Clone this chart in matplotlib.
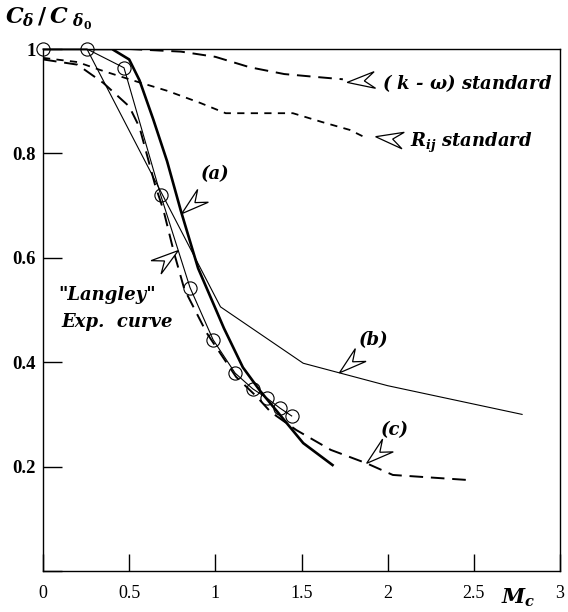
import numpy as np
import matplotlib
matplotlib.use("Agg")
import matplotlib.pyplot as plt
from matplotlib.patches import Polygon
from matplotlib import transforms

#---------------------------- data ----------------------------
# "Langley" experimental curve (open circles)
langley_x = [0.0, 0.255, 0.47, 0.683, 0.853, 0.987, 1.115, 1.217, 1.30, 1.375, 1.443]
langley_y = [1.0, 1.0, 0.964, 0.72, 0.543, 0.443, 0.379, 0.349, 0.331, 0.312, 0.297]

# curve (a), heavy solid
a_x = [0.0, 0.40, 0.50, 0.56, 0.64, 0.72, 0.80, 0.90, 1.05, 1.16, 1.26, 1.36, 1.51, 1.68]
a_y = [1.0, 1.0, 0.98, 0.94, 0.865, 0.785, 0.69, 0.58, 0.465, 0.39, 0.345, 0.305, 0.245, 0.203]

# curve (b), thin solid
b_x = [0.0, 0.255, 1.03, 1.51, 2.0, 2.78]
b_y = [1.0, 1.0, 0.506, 0.398, 0.355, 0.30]

# curve (c), dashed
c_x = [0.0, 0.20, 0.35, 0.50, 0.56, 0.65, 0.70, 0.76, 0.82, 0.95, 1.12, 1.24, 1.32, 1.47, 1.67, 1.88, 2.03, 2.48]
c_y = [0.98, 0.97, 0.935, 0.89, 0.85, 0.74, 0.69, 0.61, 0.54, 0.456, 0.372, 0.334, 0.305, 0.27, 0.232, 0.206, 0.184, 0.174]

# (k - omega) standard
kw_x = [0.0, 0.5, 0.8, 1.0, 1.2, 1.4, 1.6, 1.74]
kw_y = [1.0, 1.0, 0.995, 0.985, 0.965, 0.952, 0.946, 0.942]

# Rij standard
rij_x = [0.0, 0.20, 0.33, 0.52, 0.72, 0.91, 1.06, 1.45, 1.62, 1.78, 1.86]
rij_y = [0.983, 0.975, 0.96, 0.94, 0.92, 0.897, 0.877, 0.877, 0.86, 0.845, 0.832]

xticks = [0, 0.5, 1, 1.5, 2, 2.5, 3]
xticklabels = ["0", "0.5", "1", "1.5", "2", "2.5", "3"]
yticks = [0, 0.2, 0.4, 0.6, 0.8, 1.0]
yticklabels = ["", "0.2", "0.4", "0.6", "0.8", "1"]
#----------------------------------------------------------------------------------

plt.rcParams["mathtext.fontset"] = "custom"
plt.rcParams["mathtext.it"] = "DejaVu Serif:italic:bold"
plt.rcParams["mathtext.rm"] = "DejaVu Serif:bold"
plt.rcParams["mathtext.bf"] = "DejaVu Serif:bold"

fig = plt.figure(figsize=(5.68, 6.12), dpi=100)
ax = fig.add_axes([43/568, 1 - 571/612, 517/568, 522/612])

ax.plot(kw_x, kw_y, color="black", lw=1.4, dashes=(7, 4))
ax.plot(rij_x, rij_y, color="black", lw=1.3, dashes=(4, 3.5))
ax.plot(c_x, c_y, color="black", lw=1.4, dashes=(7, 4))
ax.plot(b_x, b_y, color="black", lw=0.8)
ax.plot(a_x, a_y, color="black", lw=1.9)
ax.plot(langley_x, langley_y, color="black", lw=0.8, marker="o", ms=9.5,
        mfc="none", mec="black", mew=0.8, clip_on=False, zorder=4)

ax.set_xlim(0, 3)
ax.set_ylim(0, 1)
ax.set_xticks(xticks)
ax.set_xticklabels(xticklabels, fontfamily="Liberation Serif", fontsize=13)
ax.set_yticks(yticks)
ax.set_yticklabels(yticklabels, fontfamily="Liberation Serif", fontweight="bold", fontsize=13.5)
ax.tick_params(axis="x", direction="in", length=12, width=1, pad=10)
ax.tick_params(axis="y", direction="in", length=14, width=1, pad=5)
for s in ax.spines.values():
    s.set_linewidth(1.0)


def dart(x, y, ang, L=20, W=6):
    # open arrow head, tip at (x, y) in data units, back pointing along ang (degrees)
    a = np.radians(ang)
    u = np.array([np.cos(a), np.sin(a)])
    n = np.array([-u[1], u[0]])
    pts = np.array([0*u, L*u + W*n, 0.62*L*u, L*u - W*n]) / 72.0
    trans = fig.dpi_scale_trans + transforms.ScaledTranslation(x, y, ax.transData)
    ax.add_patch(Polygon(pts, closed=True, fc="white", ec="black", lw=0.9,
                         transform=trans, clip_on=False, zorder=6))


tfont = dict(fontfamily="DejaVu Serif", fontstyle="italic", fontweight="bold", fontsize=13)

# annotations
dart(1.765, 0.936, 5)
ax.text(1.97, 0.935, "( $k$ - ω) standard", ha="left", va="center", **tfont)
dart(1.93, 0.832, -8)
ax.text(2.13, 0.82, "$R_{ij}$ standard", ha="left", va="center", **tfont)

ax_x = 0.805
dart(ax_x, np.interp(ax_x, a_x, a_y), 40)
ax.text(1.0, 0.76, "(a)", ha="center", va="center", **tfont)

bx = 1.72
dart(bx, np.interp(bx, b_x, b_y), 40)
ax.text(1.92, 0.443, "(b)", ha="center", va="center", **tfont)

cx = 1.878
dart(cx, np.interp(cx, c_x, c_y), 40)
ax.text(2.04, 0.27, "(c)", ha="center", va="center", **tfont)

lx = 0.785
dart(lx, np.interp(lx, langley_x, langley_y), 217)
ax.text(0.087, 0.529, "\"Langley\"", ha="left", va="center", **tfont)
ax.text(0.105, 0.477, "Exp.  curve", ha="left", va="center", **tfont)

# axis titles
fig.text(5/568, 1 - 6/612, r"$C_{\delta}\,/\,C_{\ \delta_0}$", ha="left", va="top", fontsize=16)
ax.text(2.76, -0.052, r"$M_c$", transform=ax.get_xaxis_transform(), ha="center", va="center", fontsize=15)

fig.savefig("out.png", dpi=100)
